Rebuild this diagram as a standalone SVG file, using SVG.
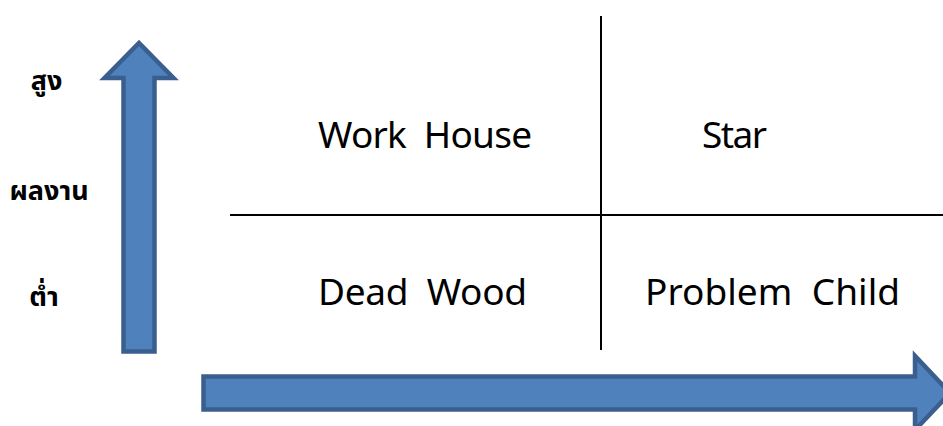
<svg xmlns="http://www.w3.org/2000/svg" width="943" height="426" viewBox="0 0 943 426">
  <style>
    .arrow { fill: #4F81BD; stroke: #3A5F8E; stroke-width: 4.5; stroke-linejoin: miter; }
    .grid { stroke: #000000; stroke-width: 2; fill: none; }
    .quad { font-family: "Noto Sans", "Open Sans", "DejaVu Sans", sans-serif; font-size: 37px; fill: #000000; white-space: pre; }
    .axis { font-family: "Noto Sans Thai", "Noto Sans", "DejaVu Sans", sans-serif; font-size: 27px; font-weight: bold; fill: #000000; }
  </style>

  <!-- quadrant dividers -->
  <g id="connectors">
    <line class="grid" x1="601" y1="16" x2="601" y2="350"/>
    <line class="grid" x1="230" y1="215" x2="943" y2="215"/>
  </g>

  <!-- vertical axis arrow (performance) -->
  <g id="arrow-up">
    <path class="arrow" d="M123.5 351.5 L123.5 78 L104.5 78 L139 43 L173.5 78 L154.5 78 L154.5 351.5 Z"/>
  </g>

  <!-- horizontal axis arrow -->
  <g id="arrow-right">
    <path class="arrow" d="M203.5 376.5 L915 376.5 L915 356 L950 393 L915 430 L915 409.5 L203.5 409.5 Z"/>
  </g>

  <!-- axis labels -->
  <g id="label-high"><text class="axis" x="46.5" y="90" text-anchor="middle">สูง</text></g>
  <g id="label-performance"><text class="axis" x="49" y="200" text-anchor="middle">ผลงาน</text></g>
  <g id="label-low"><text class="axis" x="44" y="306" text-anchor="middle">ต่ำ</text></g>

  <!-- quadrant labels -->
  <g id="work-house"><text class="quad" x="318" y="148" textLength="214" lengthAdjust="spacing">Work  House</text></g>
  <g id="star"><text class="quad" x="702" y="148" textLength="65" lengthAdjust="spacing">Star</text></g>
  <g id="dead-wood"><text class="quad" x="318" y="305" textLength="209" lengthAdjust="spacing">Dead  Wood</text></g>
  <g id="problem-child"><text class="quad" x="645" y="305" textLength="255" lengthAdjust="spacing">Problem  Child</text></g>
</svg>
